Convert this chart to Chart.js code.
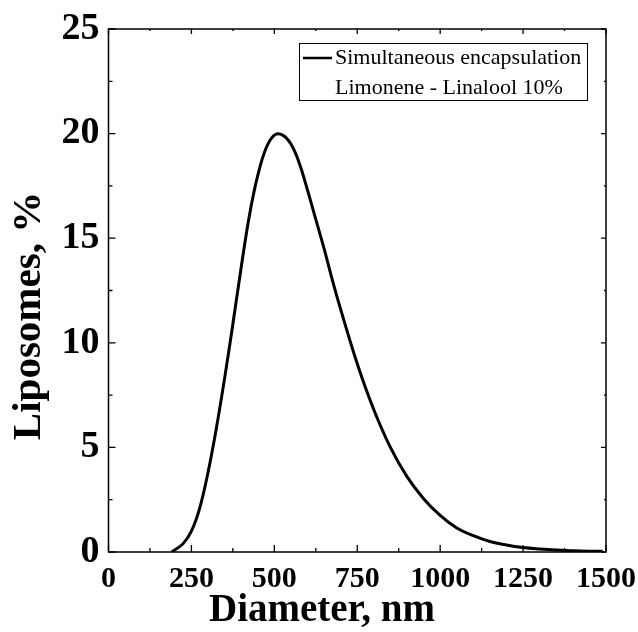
<!DOCTYPE html>
<html>
<head>
<meta charset="utf-8">
<script src="https://cdn.jsdelivr.net/npm/chart.js@4.4.1/dist/chart.umd.min.js"></script>
<style>
  html, body { margin: 0; padding: 0; background: #fff; }
  #wrap { width: 638px; height: 632px; }
</style>
</head>
<body>
<div id="wrap"><canvas id="chart" width="638" height="632"></canvas></div>
<script>
// Size distribution
const diameters = [190, 200, 225, 250, 275, 300, 325, 350, 375, 400, 425, 450, 475, 500, 525, 550, 575, 600, 625, 650, 675, 700, 750, 800, 850, 900, 950, 1000, 1050, 1100, 1150, 1200, 1250, 1300, 1350, 1400, 1450, 1490];
const liposomes = [0, 0.1, 0.4, 1.0, 2.1, 3.8, 5.9, 8.3, 10.9, 13.6, 16.1, 18.0, 19.3, 19.93, 19.93, 19.5, 18.6, 17.3, 15.9, 14.5, 13.0, 11.6, 9.0, 6.8, 5.0, 3.6, 2.55, 1.75, 1.15, 0.78, 0.5, 0.33, 0.21, 0.14, 0.09, 0.06, 0.04, 0.03];

const xTicks = [0, 250, 500, 750, 1000, 1250, 1500];
const yTicks = [0, 5, 10, 15, 20, 25];
const legendLines = ['Simultaneous encapsulation', 'Limonene - Linalool 10%'];
const xTitle = 'Diameter, nm';
const yTitle = 'Liposomes, %';

const serif = '"Liberation Serif", "Times New Roman", serif';

// frame, inward ticks, axis titles and legend box
const framePlugin = {
    id: 'frame',
    afterDraw(chart) {
        const ctx = chart.ctx;
        const a = chart.chartArea;
        const xs = chart.scales.x, ys = chart.scales.y;
        ctx.save();
        ctx.strokeStyle = '#000';
        ctx.lineWidth = 1.5;
        ctx.strokeRect(a.left, a.top, a.right - a.left, a.bottom - a.top);

        ctx.lineWidth = 1.3;
        ctx.beginPath();
        xs.ticks.forEach(t => {
            const px = xs.getPixelForValue(t.value);
            const len = xTicks.includes(t.value) ? 7 : 4;
            ctx.moveTo(px, a.bottom); ctx.lineTo(px, a.bottom - len);
            ctx.moveTo(px, a.top); ctx.lineTo(px, a.top + len - 2);
        });
        ys.ticks.forEach(t => {
            const py = ys.getPixelForValue(t.value);
            const len = yTicks.includes(t.value) ? 7 : 4;
            ctx.moveTo(a.left, py); ctx.lineTo(a.left + len, py);
            ctx.moveTo(a.right, py); ctx.lineTo(a.right - len + 2, py);
        });
        ctx.stroke();

        // axis titles
        ctx.fillStyle = '#000';
        ctx.font = 'bold 39px ' + serif;
        ctx.textAlign = 'center';
        ctx.textBaseline = 'middle';
        ctx.fillText(xTitle, 322, 611);
        ctx.translate(29, 316);
        ctx.rotate(-Math.PI / 2);
        ctx.font = 'bold 41px ' + serif;
        ctx.fillText(yTitle, 0, 0);
        ctx.setTransform(1, 0, 0, 1, 0, 0);

        // legend
        ctx.lineWidth = 1;
        ctx.strokeRect(299.5, 43.5, 288, 57);
        ctx.lineWidth = 2.5;
        ctx.beginPath();
        ctx.moveTo(303, 58); ctx.lineTo(332, 58);
        ctx.stroke();
        ctx.font = '22px ' + serif;
        ctx.textAlign = 'left';
        ctx.fillText(legendLines[0], 335, 58);
        ctx.fillText(legendLines[1], 335, 88);
        ctx.restore();
    }
};

new Chart(document.getElementById('chart'), {
    type: 'line',
    data: {
        datasets: [{
            label: legendLines[0],
            data: diameters.map((d, i) => ({ x: d, y: liposomes[i] })),
            borderColor: '#000',
            borderWidth: 3,
            pointRadius: 0,
            tension: 0.4,
            fill: false
        }]
    },
    options: {
        responsive: false,
        animation: false,
        devicePixelRatio: 1,
        layout: { padding: { top: 29, right: 32, left: 0, bottom: 0 } },
        plugins: { legend: { display: false }, tooltip: { enabled: false } },
        scales: {
            x: {
                type: 'linear',
                min: 0, max: 1500,
                afterFit: s => { s.height = 80; s.paddingLeft = 0; s.paddingRight = 0; },
                grid: { display: false, drawTicks: false },
                border: { display: false },
                ticks: {
                    stepSize: 125,
                    autoSkip: false,
                    maxRotation: 0,
                    padding: 9,
                    color: '#000',
                    font: { family: serif, size: 30, weight: 'bold' },
                    callback: v => xTicks.includes(v) ? String(v) : ''
                }
            },
            y: {
                min: 0, max: 25,
                afterFit: s => { s.width = 108.5; s.paddingTop = 0; s.paddingBottom = 0; },
                grid: { display: false, drawTicks: false },
                border: { display: false },
                ticks: {
                    stepSize: 2.5,
                    autoSkip: false,
                    padding: 9,
                    color: '#000',
                    font: { family: serif, size: 38, weight: 'bold' },
                    callback: v => yTicks.includes(v) ? String(v) : ''
                }
            }
        }
    },
    plugins: [framePlugin]
});
</script>
</body>
</html>
